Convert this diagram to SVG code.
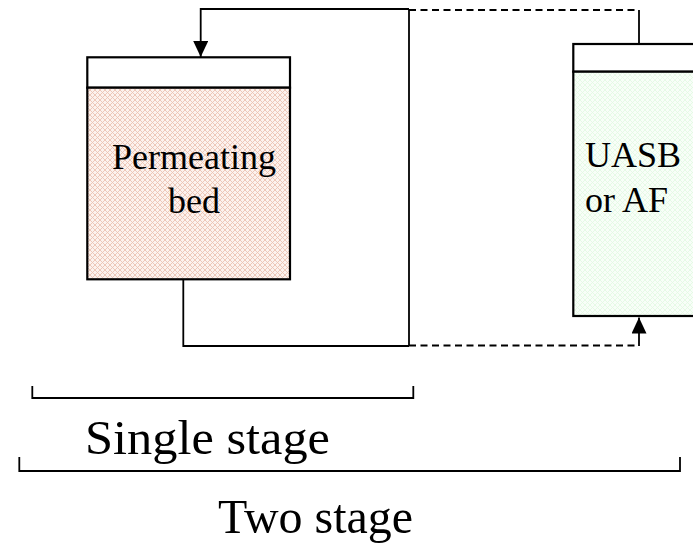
<svg xmlns="http://www.w3.org/2000/svg" width="693" height="547" viewBox="0 0 693 547">
<style>
.box{stroke:#000;stroke-width:2.2;}
.cap{fill:#fff;}
.ln{fill:none;stroke:#000;stroke-width:1.8;}
.dash{fill:none;stroke:#000;stroke-width:1.8;stroke-dasharray:7 4.5;}
.br{fill:none;stroke:#000;stroke-width:1.8;}
text{font-family:"Liberation Serif","Times New Roman",serif;fill:#000;}
.lbl{font-size:36px;}
.big{font-size:49px;}
</style>
<defs>
<pattern id="pink" width="5" height="5" patternUnits="userSpaceOnUse">
<rect width="5" height="5" fill="#fcf2ee"/>
<path d="M0,0 L5,5 M5,0 L0,5" stroke="#ebc3b3" stroke-width="0.9"/>
</pattern>
<pattern id="green" width="5" height="5" patternUnits="userSpaceOnUse">
<rect width="5" height="5" fill="#f8fef8"/>
<path d="M0,0 L5,5 M5,0 L0,5" stroke="#e4f9e4" stroke-width="0.9"/>
</pattern>
<marker id="arr" viewBox="0 0 16 15" refX="16" refY="7.5" markerWidth="16" markerHeight="15" markerUnits="userSpaceOnUse" orient="auto">
<path d="M0,0 L16,7.5 L0,15 Z" fill="#000"/>
</marker>
</defs>
<g id="connectors">
<path class="ln" d="M409,9 L200.7,9 L200.7,57" marker-end="url(#arr)"/>
<path class="ln" d="M409,9 L409,346"/>
<path class="ln" d="M183.3,280 L183.3,346 L409,346"/>
<path class="dash" d="M409,10 L639,10"/>
<path class="ln" d="M639,10 L639,44"/>
<path class="dash" d="M409,345.5 L639,345.5"/>
<path class="ln" d="M639,346 L639,317.5" marker-end="url(#arr)"/>
</g>
<g id="permeating-bed">
<rect class="box cap" x="87.3" y="57.3" width="202.7" height="30.4"/>
<rect class="box" x="87.3" y="87.7" width="202.7" height="191.6" fill="url(#pink)"/>
<text class="lbl" x="194" y="169" text-anchor="middle">Permeating</text>
<text class="lbl" x="194" y="213" text-anchor="middle">bed</text>
</g>
<g id="uasb">
<rect class="box cap" x="573.3" y="44" width="130" height="27.7"/>
<rect class="box" x="573.3" y="71.7" width="130" height="244.3" fill="url(#green)"/>
<text class="lbl" x="585" y="167">UASB</text>
<text class="lbl" x="585" y="211.5">or AF</text>
</g>
<g id="single-stage">
<path class="br" d="M32.3,386 L32.3,398 L413.3,398 L413.3,386"/>
<text class="big" x="85" y="454" textLength="245" lengthAdjust="spacingAndGlyphs">Single stage</text>
</g>
<g id="two-stage">
<path class="br" d="M19.3,457 L19.3,471 L680,471 L680,457"/>
<text class="big" x="218" y="533" textLength="195" lengthAdjust="spacingAndGlyphs">Two stage</text>
</g>
</svg>
